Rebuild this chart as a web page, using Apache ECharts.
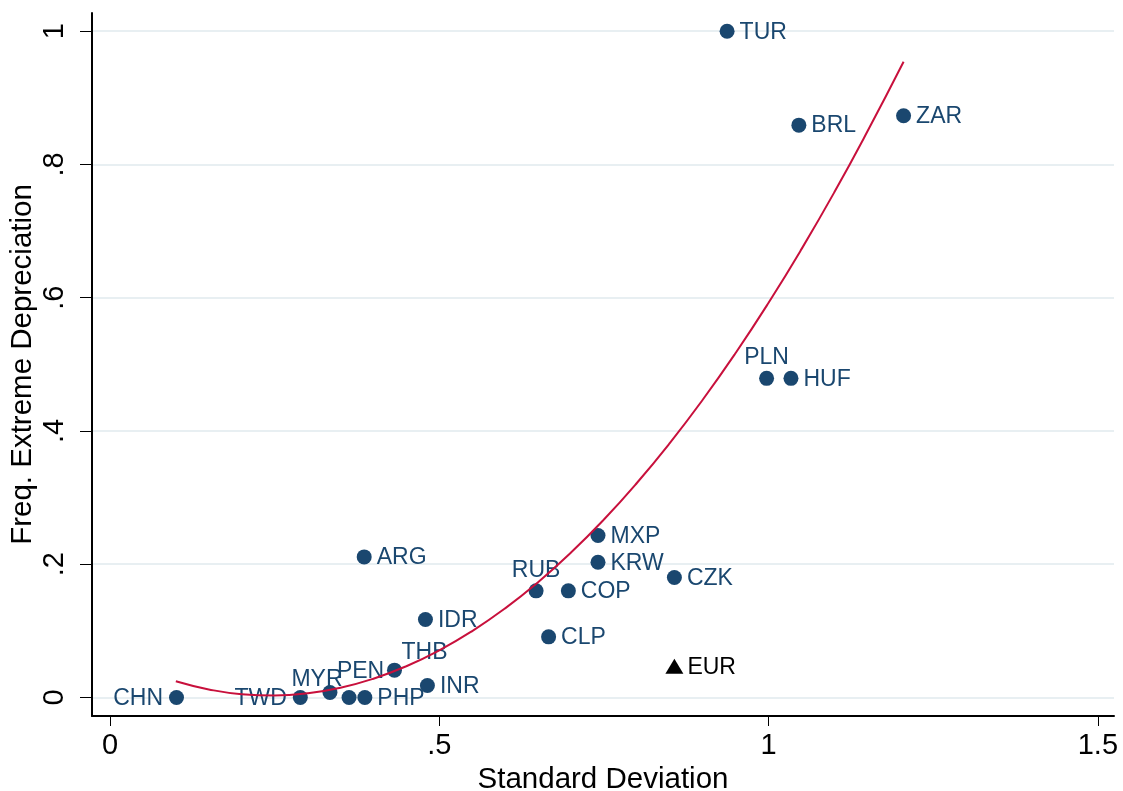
<!DOCTYPE html>
<html>
<head>
<meta charset="utf-8">
<script src="https://cdn.jsdelivr.net/npm/echarts@6/dist/echarts.min.js"></script>
<style>
html,body{margin:0;padding:0;background:#fff;}
#chart{width:1123px;height:791px;}
</style>
</head>
<body>
<div id="chart"></div>
<script>
// ---- data ----
const currencies = ['CHN','TWD','MYR','PEN','PHP','THB','INR','IDR','ARG','CLP','RUB','COP','MXP','KRW','CZK','PLN','HUF','TUR','BRL','ZAR'];
const stdDev     = [0.101,0.289,0.334,0.363,0.387,0.432,0.482,0.479,0.386,0.666,0.647,0.696,0.741,0.741,0.857,0.997,1.034,0.937,1.046,1.205];
const freqExtDep = [0.000,0.000,0.0075,0.000,0.000,0.041,0.018,0.117,0.211,0.091,0.160,0.160,0.243,0.203,0.180,0.479,0.479,1.000,0.859,0.873];

const euroName = ['EUR'];
const euroStd  = [0.857];
const euroFreq = [0.047];

// quadratic fit line
const fitX = [0.100,0.150,0.200,0.250,0.300,0.350,0.400,0.450,0.500,0.550,0.600,0.650,0.700,0.750,0.800,0.850,0.900,0.950,1.000,1.050,1.100,1.150,1.205];
const fitY = [0.0243,0.0121,0.0050,0.0031,0.0063,0.0146,0.0282,0.0469,0.0707,0.0997,0.1338,0.1731,0.2175,0.2671,0.3219,0.3818,0.4468,0.5170,0.5924,0.6729,0.7585,0.8494,0.9542];

const xTicks = [0, 0.5, 1, 1.5];
const yTicks = [0, 0.2, 0.4, 0.6, 0.8, 1];

// ---- label placement (style, separate from data) ----
const labelPlacement = {
  CHN: {position: 'left', distance: 6, offset: [0, 1]},
  TWD: {position: 'left', distance: 6, offset: [0, 1]},
  MYR: {position: 'inside', offset: [-13, -13]},
  PEN: {position: 'inside', offset: [11.5, -25.5]},
  THB: {position: 'inside', offset: [30, -18]},
  RUB: {position: 'inside', offset: [0, -20]},
  PLN: {position: 'inside', offset: [0, -21]}
};

const fmt = v => {
  if (Math.abs(v) < 1e-9) return '0';
  let s = String(Math.round(v * 1000) / 1000);
  return s.replace(/^0\./, '.');
};

const FONT = 'Liberation Sans';
const NAVY = '#1a476f';

const mainData = currencies.map((c, i) => {
  const p = labelPlacement[c] || {position: 'right', distance: 5, offset: [0, 1]};
  return {
    name: c,
    value: [stdDev[i], freqExtDep[i]],
    label: Object.assign({}, p)
  };
});

const fitData = fitX.map((x, i) => [x, fitY[i]]);
const euroData = euroName.map((n, i) => ({name: n, value: [euroStd[i], euroFreq[i]]}));

const chart = echarts.init(document.getElementById('chart'), null, {renderer: 'canvas'});
chart.setOption({
  animation: false,
  backgroundColor: '#fff',
  grid: {left: 92, right: 9, top: 13, bottom: 75, containLabel: false, outerBoundsMode: 'none'},
  xAxis: {
    type: 'value',
    min: -0.0273, max: 1.5245,
    axisLine: {show: true, onZero: false, lineStyle: {color: '#000', width: 2}},
    axisTick: {show: true, customValues: xTicks, length: 10, lineStyle: {color: '#000', width: 1}},
    axisLabel: {customValues: xTicks, formatter: fmt, fontSize: 29, color: '#000', fontFamily: FONT, margin: 15},
    splitLine: {show: false},
    name: 'Standard Deviation',
    nameLocation: 'middle',
    nameGap: 49,
    nameMoveOverlap: false,
    nameTextStyle: {fontSize: 29.5, color: '#000', fontFamily: FONT}
  },
  yAxis: {
    type: 'value',
    min: -0.0278, max: 1.0273,
    axisLine: {show: true, onZero: false, lineStyle: {color: '#000', width: 2}},
    axisTick: {show: true, customValues: yTicks, length: 12, lineStyle: {color: '#000', width: 1}},
    axisLabel: {customValues: yTicks, formatter: fmt, fontSize: 29, color: '#000', fontFamily: FONT, margin: 23, rotate: 90},
    splitLine: {show: true, lineStyle: {color: '#e8eff2', width: 2}},
    name: 'Freq. Extreme Depreciation',
    nameLocation: 'middle',
    nameGap: 54,
    nameRotate: 90,
    nameMoveOverlap: false,
    nameTextStyle: {fontSize: 29.5, color: '#000', fontFamily: FONT}
  },
  series: [
    {
      type: 'scatter',
      z: 2,
      symbol: 'circle',
      symbolSize: 15,
      itemStyle: {color: NAVY, opacity: 1},
      data: mainData,
      label: {show: true, formatter: '{b}', color: NAVY, fontSize: 23, fontFamily: FONT}
    },
    {
      type: 'scatter',
      z: 2,
      symbol: 'triangle',
      symbolSize: [18, 15],
      itemStyle: {color: '#000', opacity: 1},
      data: euroData,
      label: {show: true, position: 'right', distance: 4, offset: [0, 1], formatter: '{b}', color: '#000', fontSize: 23, fontFamily: FONT}
    },
    {
      type: 'line',
      z: 3,
      smooth: true,
      symbol: 'none',
      showSymbol: false,
      lineStyle: {color: '#c8103c', width: 2},
      data: fitData
    }
  ]
});
</script>
</body>
</html>
